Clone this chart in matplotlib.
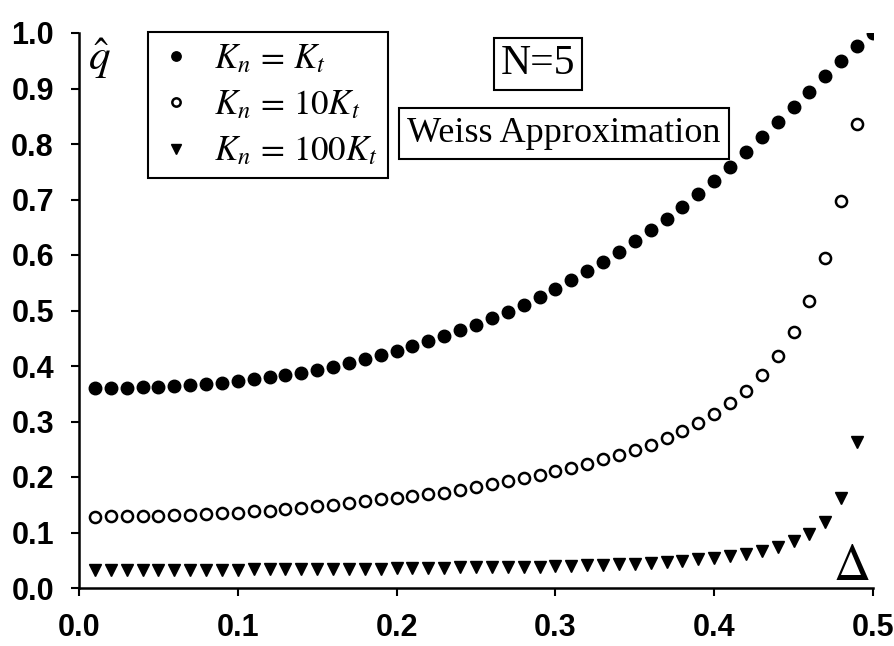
import matplotlib
matplotlib.use("Agg")
import matplotlib.pyplot as plt
import numpy as np

plt.rcParams['mathtext.fontset'] = 'stix'
plt.rcParams['font.family'] = ['Liberation Sans', 'DejaVu Sans']

delta = [round(0.01 * i, 2) for i in range(1, 51)]

q_kn_eq_kt = [0.360, 0.360, 0.360, 0.362, 0.363, 0.364, 0.366, 0.368, 0.370, 0.373,
              0.377, 0.380, 0.384, 0.388, 0.393, 0.399, 0.405, 0.412, 0.420, 0.427,
              0.436, 0.445, 0.454, 0.465, 0.474, 0.486, 0.497, 0.510, 0.524, 0.539,
              0.555, 0.571, 0.587, 0.605, 0.625, 0.645, 0.665, 0.687, 0.710, 0.733,
              0.759, 0.786, 0.812, 0.839, 0.866, 0.894, 0.922, 0.950, 0.977, 1.000]

q_kn_10kt = [0.128, 0.130, 0.129, 0.130, 0.130, 0.132, 0.132, 0.133, 0.135, 0.136,
             0.138, 0.139, 0.142, 0.145, 0.148, 0.150, 0.153, 0.156, 0.160, 0.163,
             0.166, 0.169, 0.172, 0.177, 0.182, 0.187, 0.192, 0.198, 0.204, 0.211,
             0.216, 0.224, 0.232, 0.240, 0.249, 0.258, 0.270, 0.283, 0.297, 0.314,
             0.333, 0.355, 0.384, 0.418, 0.461, 0.517, 0.594, 0.697, 0.836]

q_kn_100kt = [0.032, 0.032, 0.032, 0.032, 0.033, 0.033, 0.033, 0.033, 0.033, 0.033,
              0.034, 0.034, 0.034, 0.034, 0.034, 0.035, 0.035, 0.035, 0.035, 0.036,
              0.036, 0.036, 0.036, 0.037, 0.037, 0.037, 0.038, 0.038, 0.038, 0.039,
              0.040, 0.041, 0.042, 0.043, 0.044, 0.045, 0.047, 0.049, 0.052, 0.054,
              0.058, 0.061, 0.067, 0.074, 0.085, 0.097, 0.119, 0.162, 0.263]

x_ticks = [0.0, 0.1, 0.2, 0.3, 0.4, 0.5]
y_ticks = [0.0, 0.1, 0.2, 0.3, 0.4, 0.5, 0.6, 0.7, 0.8, 0.9, 1.0]

labels = [r'$K_n\,=\,K_t$', r'$K_n\,=\,10K_t$', r'$K_n\,=\,100K_t$']

fig = plt.figure(figsize=(8.95, 6.46), dpi=100)
ax = fig.add_axes([79/895, 1 - 588/646, 794/895, 555/646])

ax.plot(delta[:len(q_kn_eq_kt)], q_kn_eq_kt, linestyle='none', marker='o',
        ms=9, mfc='black', mec='black', label=labels[0])
ax.plot(delta[:len(q_kn_10kt)], q_kn_10kt, linestyle='none', marker='o',
        ms=8, mfc='white', mec='black', mew=1.8, label=labels[1])
ax.plot(delta[:len(q_kn_100kt)], q_kn_100kt, linestyle='none', marker='v',
        ms=9, mfc='black', mec='black', label=labels[2])

ax.set_xlim(0, 0.5)
ax.set_ylim(0, 1.0)
ax.set_xticks(x_ticks)
ax.set_yticks(y_ticks)
ax.set_xticklabels([f'{v:.1f}' for v in x_ticks])
ax.set_yticklabels([f'{v:.1f}' for v in y_ticks])
for lab in ax.get_xticklabels() + ax.get_yticklabels():
    lab.set_fontsize(22)
    lab.set_fontweight('bold')
ax.tick_params(axis='both', direction='out', length=6, width=1.5, color='black')
ax.tick_params(axis='x', pad=12)
ax.tick_params(axis='y', pad=12)
for s in ['top', 'right']:
    ax.spines[s].set_visible(False)
for s in ['left', 'bottom']:
    ax.spines[s].set_linewidth(1.8)

leg = ax.legend(loc='upper left', bbox_to_anchor=(0.087, 1.002), borderaxespad=0,
                fontsize=25, frameon=True, fancybox=False, framealpha=1,
                edgecolor='black', handletextpad=0.6, labelspacing=0.38,
                borderpad=0.3, markerscale=0.75, handlelength=1.0)
leg.get_frame().set_linewidth(1.5)

ax.text(0.578, 0.944, 'N=5', transform=ax.transAxes, ha='center', va='center',
        fontsize=30, family='Liberation Serif',
        bbox=dict(boxstyle='square,pad=0.17', fc='white', ec='black', lw=1.5))
ax.text(0.611, 0.819, 'Weiss Approximation', transform=ax.transAxes, ha='center',
        va='center', fontsize=26, family='Liberation Serif',
        bbox=dict(boxstyle='square,pad=0.24', fc='white', ec='black', lw=1.5))

ax.text(0.011, 0.995, r'$\hat{q}$', transform=ax.transAxes, ha='left', va='top',
        fontsize=31)
ax.text(0.996, 0.0144, r'$\Delta$', transform=ax.transAxes, ha='right',
        va='baseline', fontsize=37, family='Liberation Serif')

fig.savefig('out.png', dpi=100)
